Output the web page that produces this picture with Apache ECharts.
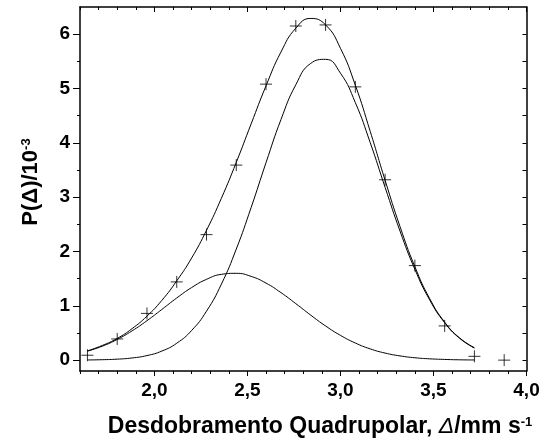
<!DOCTYPE html>
<html>
<head>
<meta charset="utf-8">
<script src="https://cdn.jsdelivr.net/npm/echarts@6/dist/echarts.min.js"></script>
<style>
  html, body { margin: 0; padding: 0; background: #ffffff; }
  #chart { width: 548px; height: 448px; }
</style>
</head>
<body>
<div id="chart"></div>
<script>
// Quadrupole splitting grid for the fitted distribution curves (mm/s)
const deltaGrid = [1.64, 1.72, 1.80, 1.88, 1.96, 2.04, 2.12, 2.20, 2.28, 2.36, 2.44, 2.52, 2.60, 2.68,
                   2.76, 2.84, 2.92, 3.00, 3.08, 3.16, 3.24, 3.32, 3.40, 3.48, 3.56, 3.64, 3.72];
// Total fitted distribution P(Δ) / 10^-3
const fitTotal = [0.17, 0.27, 0.40, 0.58, 0.81, 1.10, 1.46, 1.88, 2.39, 2.98, 3.64, 4.35, 5.05, 5.67,
                  6.11, 6.29, 6.17, 5.74, 5.06, 4.21, 3.31, 2.46, 1.72, 1.13, 0.70, 0.41, 0.23];
// Low-splitting component
const siteLow = [0.165, 0.257, 0.381, 0.539, 0.726, 0.933, 1.144, 1.336, 1.487, 1.579, 1.598, 1.541, 1.418, 1.243,
                 1.040, 0.829, 0.629, 0.456, 0.315, 0.207, 0.130, 0.078, 0.044, 0.024, 0.013, 0.006, 0.003];
// High-splitting component
const siteHigh = [0.003, 0.008, 0.018, 0.040, 0.084, 0.167, 0.311, 0.546, 0.901, 1.399, 2.044, 2.811, 3.636, 4.426,
                  5.069, 5.462, 5.537, 5.282, 4.740, 4.003, 3.180, 2.377, 1.672, 1.106, 0.689, 0.403, 0.222];
// Distribution points
const pointDelta = [1.64, 1.80, 1.96, 2.12, 2.28, 2.44, 2.60, 2.76, 2.92, 3.08, 3.24, 3.40, 3.56, 3.72, 3.88];
const pointP = [0.09, 0.39, 0.86, 1.44, 2.31, 3.59, 5.08, 6.15, 6.17, 5.03, 3.32, 1.74, 0.63, 0.07, 0.00];

// Axis ticks
const xMajor = [2.0, 2.5, 3.0, 3.5, 4.0];
const xMinor = [1.6, 1.7, 1.8, 1.9, 2.1, 2.2, 2.3, 2.4, 2.6, 2.7, 2.8, 2.9, 3.1, 3.2, 3.3, 3.4, 3.6, 3.7, 3.8, 3.9];
const yMajor = [0, 1, 2, 3, 4, 5, 6];
const yMinor = [0.5, 1.5, 2.5, 3.5, 4.5, 5.5];

const FONT = 'Liberation Sans, Arial, sans-serif';
const INK = '#000000';

const zip = (xs, ys) => xs.map((x, i) => [x, ys[i]]);

function xAxisDef(position, ticks, len, inside, withLabels, withLine) {
  return {
    type: 'value', min: 1.6, max: 4.0, position: position,
    axisLine: { show: withLine, onZero: false, lineStyle: { color: INK, width: 1.5 } },
    axisTick: { show: true, inside: inside, length: len, customValues: ticks, lineStyle: { color: INK, width: 1 } },
    axisLabel: withLabels ? {
      show: true, customValues: ticks, margin: 10,
      fontFamily: FONT, fontWeight: 'bold', fontSize: 19, color: INK,
      formatter: v => v.toFixed(1).replace('.', ',')
    } : { show: false },
    splitLine: { show: false }
  };
}

function yAxisDef(position, ticks, len, inside, withLabels, withLine) {
  return {
    type: 'value', min: -0.2, max: 6.5, position: position,
    axisLine: { show: withLine, onZero: false, lineStyle: { color: INK, width: 1.5 } },
    axisTick: { show: true, inside: inside, length: len, customValues: ticks, lineStyle: { color: INK, width: 1 } },
    axisLabel: withLabels ? {
      show: true, customValues: ticks, margin: 10,
      fontFamily: FONT, fontWeight: 'bold', fontSize: 19, color: INK,
      formatter: v => String(v)
    } : { show: false },
    splitLine: { show: false }
  };
}

const chart = echarts.init(document.getElementById('chart'), null, { renderer: 'canvas' });

chart.setOption({
  animation: false,
  backgroundColor: '#ffffff',
  grid: { left: 80, top: 7, right: 21.5, bottom: 77, outerBoundsMode: 'none' },
  xAxis: [
    xAxisDef('bottom', xMajor, 5, false, true, true),
    xAxisDef('bottom', xMinor, 3, false, false, false),
    xAxisDef('top', xMajor, 5, true, false, true),
    xAxisDef('top', xMinor, 3, true, false, false)
  ],
  yAxis: [
    yAxisDef('left', yMajor, 7, false, true, true),
    yAxisDef('left', yMinor, 3, false, false, false),
    yAxisDef('right', yMajor.concat(yMinor), 4, true, false, true)
  ],
  series: [
    {
      name: 'total', type: 'line', xAxisIndex: 0, yAxisIndex: 0,
      data: zip(deltaGrid, fitTotal), smooth: true, showSymbol: false,
      lineStyle: { color: INK, width: 1 }
    },
    {
      name: 'low', type: 'line', xAxisIndex: 0, yAxisIndex: 0,
      data: zip(deltaGrid, siteLow), smooth: true, showSymbol: false,
      lineStyle: { color: INK, width: 1 }
    },
    {
      name: 'high', type: 'line', xAxisIndex: 0, yAxisIndex: 0,
      data: zip(deltaGrid, siteHigh), smooth: true, showSymbol: false,
      lineStyle: { color: INK, width: 1 }
    },
    {
      name: 'points', type: 'scatter', xAxisIndex: 0, yAxisIndex: 0,
      data: zip(pointDelta, pointP),
      symbol: 'path://M0,6L12,6M6,0L6,12', symbolSize: 12,
      itemStyle: { color: 'rgba(0,0,0,0)', borderColor: INK, borderWidth: 1 }
    }
  ],
  graphic: [
    {
      type: 'text', x: 320, y: 427,
      style: {
        text: '{b|Desdobramento Quadrupolar, }{i|Δ}{b|/mm s}{s|-1}',
        align: 'center', verticalAlign: 'middle',
        rich: {
          b: { fontFamily: FONT, fontWeight: 'bold', fontSize: 23, fill: INK, color: INK },
          i: { fontFamily: FONT, fontStyle: 'italic', fontWeight: 'normal', fontSize: 23, fill: INK, color: INK },
          s: { fontFamily: FONT, fontWeight: 'bold', fontSize: 13, fill: INK, color: INK, verticalAlign: 'top' }
        }
      }
    },
    {
      type: 'text', x: 31, y: 182, rotation: Math.PI / 2,
      style: {
        text: '{b|P(Δ)/10}{s|-3}',
        align: 'center', verticalAlign: 'middle',
        rich: {
          b: { fontFamily: FONT, fontWeight: 'bold', fontSize: 22, fill: INK, color: INK },
          s: { fontFamily: FONT, fontWeight: 'bold', fontSize: 13, fill: INK, color: INK, verticalAlign: 'top' }
        }
      }
    }
  ]
});
</script>
</body>
</html>
